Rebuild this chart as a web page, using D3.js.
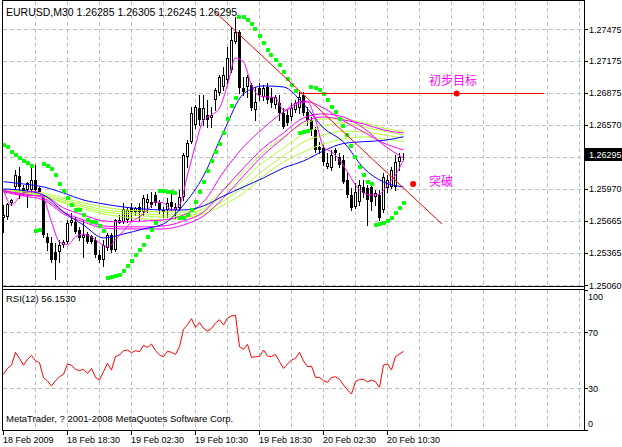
<!DOCTYPE html>
<html><head><meta charset="utf-8">
<script src="https://cdn.jsdelivr.net/npm/d3@7"></script>
<style>
body{margin:0;background:#fff}
svg{display:block}
text{font-family:"Liberation Sans",Arial,sans-serif}
</style>
</head><body>
<svg id="c" width="622" height="447"></svg>
<script>
// ---------- DATA ----------
const symbolTitle = "EURUSD,M30";
const opens = [1.25692,1.25702,1.25834,1.25985,1.26089,1.25975,1.25957,1.25957,1.26051,1.25975,
1.25890,1.25513,1.25457,1.25372,1.25372,1.25439,1.25467,1.25645,1.25655,1.25579,
1.25504,1.25541,1.25523,1.25485,1.25343,1.25296,1.25410,1.25532,1.25391,1.25645,
1.25655,1.25674,1.25787,1.25749,1.25796,1.25749,1.25834,1.25843,1.25909,1.25834,
1.25749,1.25768,1.25843,1.25768,1.25787,1.25890,1.26268,1.26409,1.26570,1.26730,
1.26617,1.26664,1.26636,1.26806,1.26872,1.26928,1.26994,1.27089,1.27353,1.27447,
1.26919,1.26928,1.26947,1.26711,1.26919,1.26834,1.26928,1.26825,1.26758,1.26777,
1.26683,1.26664,1.26645,1.26711,1.26730,1.26853,1.26692,1.26617,1.26523,1.26362,
1.26353,1.26174,1.26164,1.26334,1.26268,1.26240,1.26051,1.25909,1.25796,1.25843,
1.25985,1.25975,1.25985,1.25890,1.25909,1.25768,1.25975,1.25985,1.25985,1.26221,1.26285];
const highs = [1.25815,1.25834,1.25872,1.26145,1.26174,1.26004,1.26032,1.26192,1.26192,1.25985,
1.25909,1.25551,1.25513,1.25457,1.25485,1.25485,1.25674,1.25740,1.25702,1.25608,
1.25674,1.25560,1.25532,1.25513,1.25391,1.25485,1.25551,1.25551,1.25683,1.25721,
1.25834,1.25796,1.25834,1.25796,1.25834,1.25909,1.25919,1.25938,1.25938,1.25862,
1.25796,1.25881,1.25928,1.25834,1.25957,1.26306,1.26428,1.26740,1.26758,1.26853,
1.26853,1.26806,1.26740,1.26919,1.27041,1.27117,1.27306,1.27494,1.27589,1.27466,
1.27023,1.27041,1.26966,1.26928,1.26966,1.26947,1.26966,1.26919,1.26853,1.26853,
1.26730,1.26711,1.26777,1.26806,1.26881,1.26881,1.26740,1.26645,1.26551,1.26409,
1.26381,1.26306,1.26334,1.26353,1.26306,1.26287,1.26117,1.25975,1.26023,1.26051,
1.26051,1.26004,1.26032,1.25957,1.25957,1.26117,1.26098,1.26174,1.26287,1.26306,1.26305];
const lows = [1.25560,1.25683,1.25815,1.25928,1.25881,1.25909,1.25796,1.25938,1.25928,1.25928,
1.25513,1.25391,1.25277,1.25117,1.25277,1.25420,1.25457,1.25626,1.25551,1.25485,
1.25325,1.25457,1.25457,1.25325,1.25277,1.25240,1.25391,1.25372,1.25381,1.25645,
1.25645,1.25655,1.25674,1.25721,1.25674,1.25721,1.25749,1.25796,1.25815,1.25740,
1.25702,1.25702,1.25768,1.25692,1.25768,1.25862,1.26174,1.26400,1.26541,1.26570,
1.26570,1.26551,1.26551,1.26711,1.26853,1.26900,1.26966,1.27070,1.27343,1.26872,
1.26853,1.26834,1.26711,1.26617,1.26806,1.26806,1.26777,1.26740,1.26730,1.26617,
1.26541,1.26570,1.26617,1.26692,1.26683,1.26664,1.26570,1.26475,1.26315,1.26306,
1.26192,1.26164,1.26145,1.26240,1.26174,1.26023,1.25890,1.25768,1.25787,1.25815,
1.25890,1.25626,1.25768,1.25815,1.25674,1.25749,1.25938,1.25975,1.25957,1.26145,1.26245];
const closes = [1.25721,1.25825,1.25862,1.26098,1.25985,1.25928,1.26023,1.26051,1.25957,1.25938,
1.25532,1.25457,1.25296,1.25296,1.25439,1.25467,1.25645,1.25674,1.25560,1.25504,
1.25532,1.25467,1.25467,1.25343,1.25296,1.25439,1.25532,1.25391,1.25674,1.25674,
1.25777,1.25768,1.25749,1.25787,1.25749,1.25881,1.25872,1.25815,1.25834,1.25768,
1.25768,1.25834,1.25796,1.25796,1.25890,1.26287,1.26400,1.26683,1.26740,1.26617,
1.26730,1.26617,1.26664,1.26900,1.27023,1.27041,1.27202,1.27372,1.27447,1.26919,
1.26881,1.27023,1.26730,1.26787,1.26853,1.26919,1.26806,1.26777,1.26834,1.26683,
1.26551,1.26589,1.26730,1.26777,1.26834,1.26683,1.26617,1.26523,1.26334,1.26334,
1.26221,1.26211,1.26287,1.26306,1.26192,1.26032,1.25909,1.25787,1.25938,1.26004,
1.25928,1.25862,1.25843,1.25928,1.25692,1.26079,1.26051,1.26145,1.26221,1.26268,1.26295];

const sar = [1.26381,1.26359,1.26312,1.26287,1.26261,1.26230,1.26208,1.26186,1.25573,1.25579,
1.26202,1.26183,1.26152,1.26098,1.26013,1.25947,1.25878,1.25815,1.25768,1.25768,
1.25721,1.25674,1.25657,1.25657,1.25617,1.25573,1.25124,1.25133,1.25145,1.25155,
1.25192,1.25240,1.25287,1.25343,1.25391,1.25439,1.25516,1.25579,1.25648,1.25947,
1.25947,1.25941,1.25941,1.25931,1.25695,1.25695,1.25721,1.25768,1.25843,1.25938,
1.26032,1.26139,1.26230,1.26318,1.26390,1.26494,1.26626,1.26749,1.26827,1.27591,
1.27591,1.27560,1.27523,1.27475,1.27409,1.27346,1.27277,1.27230,1.27183,1.27136,
1.27073,1.27001,1.26947,1.26893,1.26497,1.26507,1.26513,1.26925,1.26916,1.26900,
1.26859,1.26806,1.26740,1.26692,1.26624,1.26560,1.26475,1.26372,1.26265,1.26176,
1.26098,1.26035,1.26010,1.25626,1.25636,1.25642,1.25664,1.25690,1.25737,1.25784,1.25831];

const rsi = [39.8,44,46.3,55.5,51,46.3,50.5,53.3,49.5,48,
37.4,35,31.4,35.2,38,39.8,47.1,46.3,43.3,42.4,
43.3,40.5,44,37.6,35.7,41.7,47.6,42.9,52.4,53.6,
56.7,57.1,55.2,56.7,55.9,60.5,59,61.4,56.7,53.6,
52.4,56.2,55.5,54,59.5,71.9,75.2,79.5,73.3,76.7,
72.6,70.7,72.6,76.4,78.8,75,80,81.4,81.9,59.5,
57.6,61.2,51.9,52.4,52.4,57.1,52.8,52.4,54,48.8,
44,47.1,50,51.2,55.5,49.3,45.2,45.7,37.6,37.6,
35.2,34,37.6,38,36.2,32.1,28.6,25.7,34.5,36.2,
36.2,34.3,35.7,34.5,30.5,46.4,47.1,42.9,52.4,54.3,56.153];
const rsiPeriod = 12;

// moving-average lines, sampled every 5 bars
const maBars = [0,5,10,15,20,25,30,35,40,45,50,55,60,65,70,75,80,85,90,95,100];
const blueSlow = [1.26035,1.26013,1.25985,1.25928,1.25862,1.25825,1.25796,1.25777,1.25768,1.25768,1.25806,1.25900,1.25985,1.26070,1.26164,1.26230,1.26325,1.26395,1.26412,1.26424,1.26459];
const blueFast = [1.25966,1.25952,1.25909,1.25749,1.25626,1.25504,1.25541,1.25589,1.25636,1.25815,1.26089,1.26504,1.26862,1.26938,1.26928,1.26768,1.26541,1.26409,1.26164,1.26032,1.25985];
const lime1 = [1.25957,1.25947,1.25928,1.25881,1.25834,1.25796,1.25768,1.25759,1.25749,1.25749,1.25806,1.25957,1.26126,1.26315,1.26457,1.26579,1.26626,1.26626,1.26589,1.26541,1.26507];
const lime2 = [1.25947,1.25938,1.25909,1.25862,1.25815,1.25768,1.25749,1.25730,1.25721,1.25730,1.25777,1.25900,1.26051,1.26221,1.26353,1.26485,1.26560,1.26589,1.26551,1.26513,1.26475];
const lime3 = [1.25938,1.25928,1.25900,1.25843,1.25796,1.25749,1.25730,1.25711,1.25702,1.25711,1.25749,1.25853,1.25985,1.26145,1.26277,1.26409,1.26475,1.26513,1.26504,1.26475,1.26447];
const lime4 = [1.25928,1.25919,1.25890,1.25834,1.25777,1.25730,1.25702,1.25683,1.25674,1.25692,1.25730,1.25815,1.25928,1.26089,1.26221,1.26315,1.26390,1.26438,1.26457,1.26438,1.26412];
const magenta2 = [1.25957,1.25909,1.25900,1.25787,1.25721,1.25664,1.25655,1.25664,1.25674,1.25721,1.25843,1.26126,1.26362,1.26541,1.26692,1.26796,1.26730,1.26608,1.26504,1.26400,1.26334];
const magenta3 = [1.25947,1.25919,1.25881,1.25749,1.25674,1.25617,1.25608,1.25608,1.25617,1.25664,1.25749,1.25957,1.26164,1.26353,1.26494,1.26636,1.26674,1.26645,1.26541,1.26381,1.26258];
const magenta4 = [1.25938,1.25900,1.25862,1.25730,1.25655,1.25598,1.25589,1.25589,1.25589,1.25626,1.25711,1.25881,1.26089,1.26287,1.26447,1.26598,1.26645,1.26617,1.26579,1.26523,1.26494];
// fast magenta line, sampled every 2 bars
const magFastBars = d3.range(0, 101, 2);
const magentaFast = [1.25957,1.25815,1.25890,1.25938,1.25941,1.25881,1.25655,1.25466,1.25439,1.25513,
1.25541,1.25513,1.25457,1.25419,1.25485,1.25570,1.25655,1.25702,1.25768,1.25843,
1.25834,1.25768,1.25815,1.26098,1.26381,1.26617,1.26664,1.26730,1.26947,1.27202,
1.27164,1.26947,1.26843,1.26834,1.26825,1.26711,1.26730,1.26777,1.26787,1.26617,
1.26362,1.26315,1.26240,1.26126,1.26004,1.25928,1.25909,1.25919,1.26004,1.26098,1.26240];

// axis ticks
const priceTicks = [1.25060,1.25365,1.25665,1.25970,1.26270,1.26570,1.26875,1.27175,1.27475];
const rsiLevels = [30,70];
const rsiTicks = [0,30,70,100];
const timeLabelBars = [0,16,32,48,64,80,96];
const timeLabels = ["18 Feb 2009","18 Feb 18:30","19 Feb 02:30","19 Feb 10:30","19 Feb 18:30","20 Feb 02:30","20 Feb 10:30"];

// annotations (bar index, price)
const trendBars = [52.9, 109.6];
const trendPrices = [1.27636, 1.25636];
const targetBars = [74.1, 135.1];
const targetPrice = 1.26875;
const targetDotBar = 113.3;
const targetText = "初步目标";
const breakBar = 102.4;
const breakPrice = 1.26013;
const breakText = "突破";
const copyright = "MetaTrader, ? 2001-2008 MetaQuotes Software Corp.";

// ---------- DRAW ----------
const svg = d3.select("#c");
const n = closes.length;
const last = n - 1;
const xs = d3.scaleLinear().domain([0,145]).range([3.5,583.5]);
const ym = d3.scaleLinear().domain([1.25060,1.27475]).range([285,29]);
const yr = d3.scaleLinear().domain([0,100]).range([430,290]);

const defs = svg.append("defs");
defs.append("clipPath").attr("id","mainClip").append("rect").attr("x",3).attr("y",1).attr("width",581).attr("height",285);
defs.append("clipPath").attr("id","rsiClip").append("rect").attr("x",3).attr("y",290).attr("width",581).attr("height",140);

const gridColor = "#c0c0c0", dash = "4,3";
const grid = svg.append("g");
const vBars = d3.range(8, 146, 8);
[[1,286],[290,430]].forEach(([a,b])=>{
  grid.selectAll(null).data(vBars).join("line")
    .attr("x1",d=>xs(d)).attr("x2",d=>xs(d)).attr("y1",a).attr("y2",b)
    .attr("stroke",gridColor).attr("stroke-dasharray",dash);
});
grid.selectAll(null).data(priceTicks).join("line")
  .attr("x1",3).attr("x2",584).attr("y1",d=>Math.round(ym(d))+0.5).attr("y2",d=>Math.round(ym(d))+0.5)
  .attr("stroke",gridColor).attr("stroke-dasharray",dash);
grid.selectAll(null).data(rsiLevels).join("line")
  .attr("x1",3).attr("x2",584).attr("y1",d=>Math.round(yr(d))+0.5).attr("y2",d=>Math.round(yr(d))+0.5)
  .attr("stroke",gridColor).attr("stroke-dasharray",dash);

// candles
const main = svg.append("g").attr("clip-path","url(#mainClip)");
const idx = d3.range(n);
main.selectAll(null).data(idx).join("line")
  .attr("x1",i=>xs(i)).attr("x2",i=>xs(i))
  .attr("y1",i=>Math.round(ym(highs[i]))).attr("y2",i=>Math.round(ym(lows[i]))+1)
  .attr("stroke","#000").attr("stroke-width",1);
const bull = idx.filter(i=>closes[i]>=opens[i]);
const bear = idx.filter(i=>closes[i]<opens[i]);
main.selectAll(null).data(bull).join("rect")
  .attr("x",i=>xs(i)-1).attr("width",2)
  .attr("y",i=>Math.round(ym(closes[i]))+0.5)
  .attr("height",i=>Math.max(Math.round(ym(opens[i]))-Math.round(ym(closes[i]))-1,0))
  .attr("fill","#fff").attr("stroke","#000").attr("stroke-width",1);
main.selectAll(null).data(bear).join("rect")
  .attr("x",i=>xs(i)-1.5).attr("width",3)
  .attr("y",i=>Math.round(ym(opens[i])))
  .attr("height",i=>Math.max(Math.round(ym(closes[i]))-Math.round(ym(opens[i])),1))
  .attr("fill","#000");

// MA lines
function drawMA(bars, vals, color){
  const line = d3.line().x((d,i)=>xs(bars[i])).y(d=>ym(d)).curve(d3.curveMonotoneX);
  main.append("path").attr("d",line(vals)).attr("fill","none").attr("stroke",color).attr("stroke-width",1);
}
const limeC = "#adff2f", magC = "#ff00ff", blueC = "#0000ff";
drawMA(maBars, lime4, limeC);
drawMA(maBars, lime3, limeC);
drawMA(maBars, lime2, limeC);
drawMA(maBars, lime1, limeC);
drawMA(maBars, magenta4, magC);
drawMA(maBars, magenta3, magC);
drawMA(maBars, magenta2, magC);
drawMA(maBars, blueSlow, blueC);
drawMA(maBars, blueFast, blueC);
drawMA(magFastBars, magentaFast, magC);

// Parabolic SAR
main.selectAll(null).data(idx).join("rect")
  .attr("x",i=>Math.round(xs(i)-2)).attr("y",i=>Math.round(ym(sar[i])-2))
  .attr("width",4).attr("height",4).attr("rx",0.8).attr("fill","#00ff00");

// trend line
main.append("line")
  .attr("x1",xs(trendBars[0])).attr("y1",ym(trendPrices[0]))
  .attr("x2",xs(trendBars[1])).attr("y2",ym(trendPrices[1]))
  .attr("stroke","#ff0000").attr("stroke-width",1);
// target horizontal line
const ty = Math.round(ym(targetPrice))+0.5;
main.append("line").attr("x1",xs(targetBars[0])).attr("x2",xs(targetBars[1]))
  .attr("y1",ty).attr("y2",ty).attr("stroke","#ff0000").attr("stroke-width",1);
main.append("circle").attr("cx",xs(targetDotBar)).attr("cy",ty).attr("r",3).attr("fill","#ff0000");
main.append("circle").attr("cx",xs(breakBar)).attr("cy",ym(breakPrice)).attr("r",3).attr("fill","#ff0000");

const cjk = '"Noto Sans CJK SC","Noto Sans",sans-serif';
svg.append("text").attr("x",429).attr("y",ty-9).text(targetText)
  .attr("fill",magC).attr("font-size",12).style("font-family",cjk);
svg.append("text").attr("x",429).attr("y",ym(breakPrice)+2).text(breakText)
  .attr("fill",magC).attr("font-size",12).style("font-family",cjk);

// header
svg.append("text").attr("x",6).attr("y",16).attr("font-size",10.5).attr("fill","#000")
  .text(`${symbolTitle}  ${opens[last].toFixed(5)} ${highs[last].toFixed(5)} ${lows[last].toFixed(5)} ${closes[last].toFixed(5)}`);

// RSI line
const rsiG = svg.append("g").attr("clip-path","url(#rsiClip)");
rsiG.append("path").attr("d", d3.line().x((d,i)=>xs(i)).y(d=>yr(d))(rsi))
  .attr("fill","none").attr("stroke","#ff0000").attr("stroke-width",1);
svg.append("text").attr("x",6).attr("y",302).attr("font-size",9.5).attr("fill","#000")
  .text(`RSI(${rsiPeriod}) ${rsi[last].toFixed(4)}`);
svg.append("text").attr("x",6).attr("y",422).attr("font-size",9.5).attr("fill","#000").text(copyright);

// frames
const frame = svg.append("g").attr("stroke","#000").attr("stroke-width",1).attr("fill","none");
frame.append("line").attr("x1",2.5).attr("x2",2.5).attr("y1",0).attr("y2",431);
frame.append("line").attr("x1",584.5).attr("x2",584.5).attr("y1",0).attr("y2",431);
frame.append("line").attr("x1",2).attr("x2",585).attr("y1",0.5).attr("y2",0.5);
frame.append("line").attr("x1",2).attr("x2",585).attr("y1",286.5).attr("y2",286.5);
frame.append("line").attr("x1",2).attr("x2",585).attr("y1",289.5).attr("y2",289.5);
frame.append("line").attr("x1",2).attr("x2",585).attr("y1",430.5).attr("y2",430.5);

// price axis
const pa = svg.append("g");
pa.selectAll(null).data(priceTicks).join("line")
  .attr("x1",584).attr("x2",588).attr("y1",d=>Math.round(ym(d))+0.5).attr("y2",d=>Math.round(ym(d))+0.5)
  .attr("stroke","#000");
pa.selectAll(null).data(priceTicks.filter(t=>Math.abs(ym(t)-ym(closes[last]))>8)).join("text")
  .attr("x",589).attr("y",d=>ym(d)+3.5).attr("font-size",9).attr("fill","#000")
  .text(d=>d.toFixed(5));
const cy = ym(closes[last]);
pa.append("rect").attr("x",585).attr("y",Math.round(cy)-6).attr("width",37).attr("height",13).attr("fill","#000");
pa.append("text").attr("x",589).attr("y",Math.round(cy)+4).attr("font-size",9).attr("fill","#fff").text(closes[last].toFixed(5));

// RSI axis
const ra = svg.append("g");
ra.selectAll(null).data(rsiTicks).join("line")
  .attr("x1",584).attr("x2",588).attr("y1",d=>Math.round(yr(d))+0.5).attr("y2",d=>Math.round(yr(d))+0.5)
  .attr("stroke","#000");
ra.selectAll(null).data(rsiTicks).join("text")
  .attr("x",588).attr("y",d=> d===100 ? yr(d)+9.5 : d===0 ? yr(d)-3 : yr(d)+3.5)
  .attr("font-size",9).attr("fill","#000").text(d=>d);

// time axis
const ta = svg.append("g");
ta.selectAll(null).data(timeLabelBars).join("line")
  .attr("x1",d=>xs(d)).attr("x2",d=>xs(d)).attr("y1",431).attr("y2",435).attr("stroke","#000");
ta.selectAll(null).data(timeLabelBars).join("text")
  .attr("x",d=>xs(d)-0.5).attr("y",443).attr("font-size",9).attr("fill","#000")
  .text((d,i)=>timeLabels[i]);
</script>
</body></html>
